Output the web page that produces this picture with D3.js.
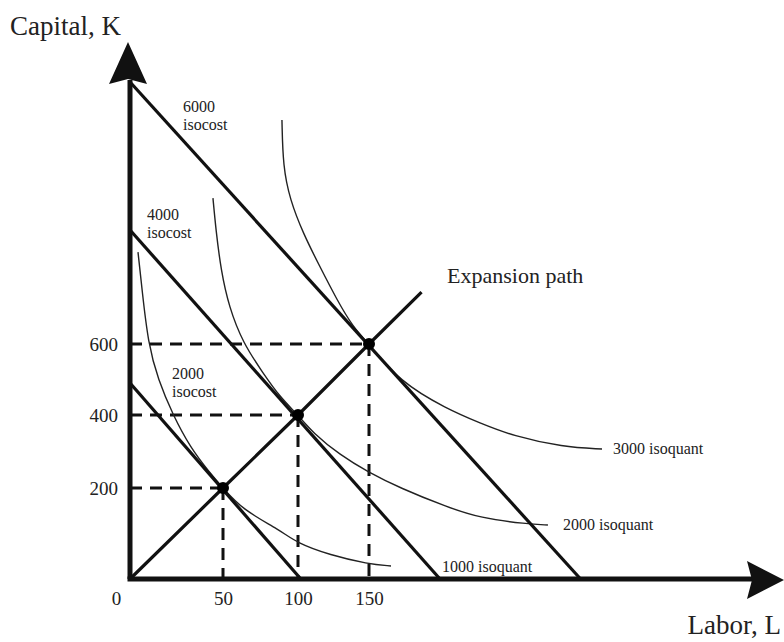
<!DOCTYPE html>
<html>
<head>
<meta charset="utf-8">
<script src="https://cdn.jsdelivr.net/npm/d3@7"></script>
<style>
  html, body { margin: 0; padding: 0; background: #fff; }
  svg { display: block; }
  text { font-family: "Liberation Serif", "DejaVu Serif", serif; fill: #222; }
</style>
</head>
<body>
<svg id="chart" width="784" height="642"></svg>
<script>
// ---------------- DATA ----------------
const L_TICKS = [0, 50, 100, 150];          // labour tick labels
const K_TICKS = [200, 400, 600];            // capital tick labels

// optimal (tangency) points on the expansion path
const OPT_L = [50, 100, 150];
const OPT_K = [200, 400, 600];

// isocost lines
const ISOCOST_COST = [2000, 4000, 6000];
const ISOCOST_K_INTERCEPT = [490, 921, 1338];
const ISOCOST_L_INTERCEPT = [102, 200, 299];

// expansion path (L, K)
const EXPANSION_L = [0, 50, 100, 150, 187];
const EXPANSION_K = [0, 200, 400, 600, 746];

// isoquants
const ISOQUANT_OUTPUT = [1000, 2000, 3000];
const ISOQUANT_1000_L = [4.3, 6.5, 9.7, 15.1, 23.1, 32.3, 43, 50, 63.3, 88, 99.3, 122.5, 149.3, 165.5];
const ISOQUANT_1000_K = [859, 752, 603, 499, 400, 312, 241, 200, 151.6, 107.7, 79, 52.7, 33, 28.6];
const ISOQUANT_2000_L = [44.6, 46.2, 48.9, 54, 63.3, 76.7, 88, 100, 110.6, 129.6, 149.3, 171.8, 204.9, 228.2, 261.3, 276];
const ISOQUANT_2000_K = [1011, 921, 808, 704, 603, 518, 450.7, 400, 350.7, 290.4, 243.8, 200, 158.2, 134, 120.9, 118.7];
const ISOQUANT_3000_L = [89.3, 90, 94.7, 103.5, 115.5, 127.5, 138.7, 150, 171.8, 204.9, 228.2, 251.4, 286.6, 314.1];
const ISOQUANT_3000_K = [1231, 1099, 1006, 912.7, 817, 724, 648, 600, 493, 417, 378, 342.5, 312.3, 306.8];

// ---------------- CHART ----------------
const svg = d3.select("#chart");
const zip = (a, b) => a.map((v, i) => [v, b[i]]);

// scales calibrated on the axis tick positions of the reference
const x = d3.scaleLinear().domain(L_TICKS).range([130, 223, 298, 369]);
const y = d3.scaleLinear().domain([0].concat(K_TICKS)).range([579, 488, 415, 344]);

const line = d3.line().x(d => x(d[0])).y(d => y(d[1]));
const curve = d3.line().x(d => x(d[0])).y(d => y(d[1])).curve(d3.curveBasis);

// dashed guides
const opt = zip(OPT_L, OPT_K);
const guides = svg.append("g").attr("stroke", "#111").attr("stroke-width", 3)
  .attr("stroke-dasharray", "12,8").attr("fill", "none");
opt.forEach(p => {
  guides.append("path").attr("d", line([[0, p[1]], [p[0], p[1]]]));
  guides.append("path").attr("d", line([[p[0], p[1]], [p[0], 0]]));
});

// isoquants
const isoquants = [
  zip(ISOQUANT_1000_L, ISOQUANT_1000_K),
  zip(ISOQUANT_2000_L, ISOQUANT_2000_K),
  zip(ISOQUANT_3000_L, ISOQUANT_3000_K)
];
svg.append("g").selectAll("path").data(isoquants).join("path")
  .attr("d", d => curve(d)).attr("fill", "none")
  .attr("stroke", "#222").attr("stroke-width", 1.4);

// isocost lines
svg.append("g").selectAll("path").data(ISOCOST_COST).join("path")
  .attr("d", (c, i) => line([[0, ISOCOST_K_INTERCEPT[i]], [ISOCOST_L_INTERCEPT[i], 0]]))
  .attr("fill", "none").attr("stroke", "#111").attr("stroke-width", 3.2);

// expansion path
svg.append("path").attr("d", line(zip(EXPANSION_L, EXPANSION_K)))
  .attr("fill", "none").attr("stroke", "#111").attr("stroke-width", 3.2);

// optimal points
svg.append("g").selectAll("circle").data(opt).join("circle")
  .attr("cx", d => x(d[0])).attr("cy", d => y(d[1])).attr("r", 6).attr("fill", "#000");

// axes lines with arrow heads
const x0 = x(0), y0 = y(0);
svg.append("path").attr("d", `M${x0},${y0} L${x0},80`).attr("stroke", "#111").attr("stroke-width", 5).attr("fill", "none");
svg.append("path").attr("d", `M${x0 - 2.5},${y0} L752,${y0}`).attr("stroke", "#111").attr("stroke-width", 5).attr("fill", "none");
svg.append("path").attr("d", `M${x0 - 2},42 L${x0 + 17},84 L${x0 - 2},79 L${x0 - 21},84 Z`).attr("fill", "#111");
svg.append("path").attr("d", `M784,${y0 + 1} L747,${y0 + 20} L752,${y0 + 1} L747,${y0 - 18} Z`).attr("fill", "#111");

// tick labels via d3 axes
const gx = svg.append("g").attr("transform", `translate(0,${y0})`)
  .call(d3.axisBottom(x).tickValues(L_TICKS).tickSize(0).tickPadding(13).tickFormat(d3.format("d")));
gx.select(".domain").remove();
gx.selectAll("text").style("font-family", '"Liberation Serif", serif').style("font-size", "19px").attr("fill", "#222");
gx.selectAll(".tick").filter(d => d === 0).select("text").attr("x", -14);

const gy = svg.append("g").attr("transform", `translate(${x0},0)`)
  .call(d3.axisLeft(y).tickValues(K_TICKS).tickSize(0).tickPadding(12).tickFormat(d3.format("d")));
gy.select(".domain").remove();
gy.selectAll("text").style("font-family", '"Liberation Serif", serif').style("font-size", "19px").attr("fill", "#222");

// axis titles
svg.append("text").attr("x", 10).attr("y", 35).style("font-size", "27px").text("Capital, K");
svg.append("text").attr("x", 781).attr("y", 634).attr("text-anchor", "end").style("font-size", "27px").text("Labor, L");

// isocost labels
const isocostLabelPos = [[172, 379], [147, 220], [183, 112]];
ISOCOST_COST.forEach((c, i) => {
  const t = svg.append("text").attr("x", isocostLabelPos[i][0]).attr("y", isocostLabelPos[i][1]).style("font-size", "16px");
  t.append("tspan").attr("x", isocostLabelPos[i][0]).text(c);
  t.append("tspan").attr("x", isocostLabelPos[i][0]).attr("dy", 18).text("isocost");
});

// isoquant labels
const isoquantLabelPos = [[442, 572], [563, 530], [613, 454]];
ISOQUANT_OUTPUT.forEach((q, i) => {
  svg.append("text").attr("x", isoquantLabelPos[i][0]).attr("y", isoquantLabelPos[i][1])
    .style("font-size", "16px").text(q + " isoquant");
});

svg.append("text").attr("x", 447).attr("y", 283).style("font-size", "22px").text("Expansion path");
</script>
</body>
</html>
